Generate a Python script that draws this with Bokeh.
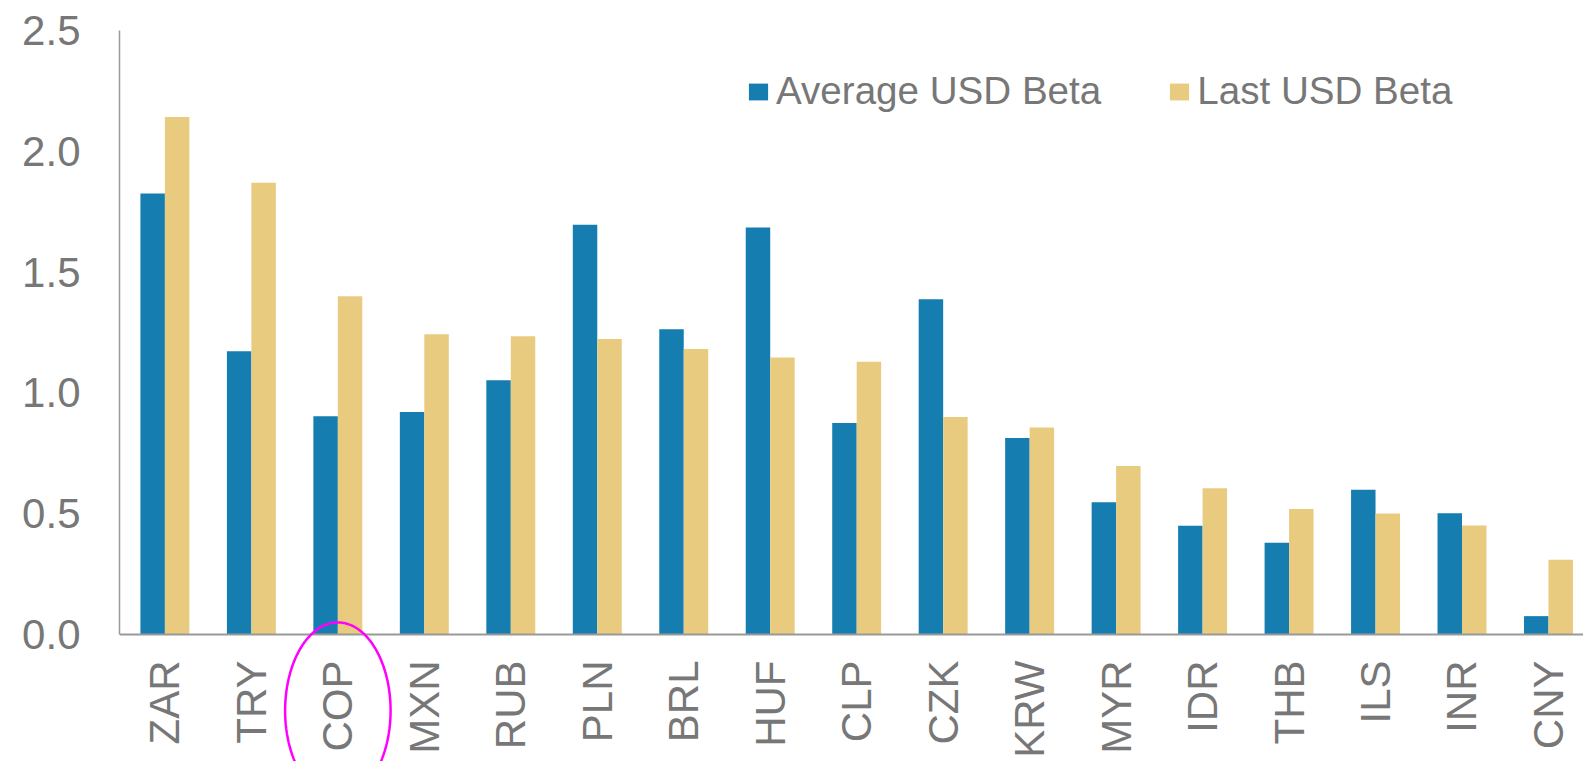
import math
from bokeh.plotting import figure
from bokeh.models import (Range1d, FixedTicker, Legend, LegendItem, ColumnDataSource,
                          PolyAnnotation)
from bokeh.embed import file_html
from bokeh.resources import INLINE

categories = ["ZAR", "TRY", "COP", "MXN", "RUB", "PLN", "BRL", "HUF", "CLP",
              "CZK", "KRW", "MYR", "IDR", "THB", "ILS", "INR", "CNY"]
average_usd_beta = [1.825, 1.172, 0.903, 0.921, 1.052, 1.696, 1.263, 1.685, 0.875,
                    1.388, 0.813, 0.547, 0.450, 0.380, 0.599, 0.502, 0.076]
last_usd_beta = [2.142, 1.870, 1.400, 1.243, 1.234, 1.223, 1.182, 1.146, 1.129,
                 0.900, 0.857, 0.697, 0.605, 0.519, 0.501, 0.451, 0.309]
y_ticks = [0.0, 0.5, 1.0, 1.5, 2.0, 2.5]
highlight = "COP"

BLUE = "#167db1"
GOLD = "#e9cb7f"
TEXT = "#777777"
AXIS = "#999999"
FONT = "Liberation Sans"

bar_w = 0.283
centers = [i + 0.5 for i in range(len(categories))]
src = ColumnDataSource(dict(
    cat=categories,
    xa=[c - bar_w / 2 for c in centers],
    xl=[c + bar_w / 2 for c in centers],
    avg=average_usd_beta,
    last=last_usd_beta,
))

p = figure(width=1583, height=761, output_backend="svg", toolbar_location=None,
           x_range=Range1d(-0.025, 16.905), y_range=Range1d(-0.5257, 2.5),
           min_border_left=119, min_border_right=0, min_border_top=30,
           min_border_bottom=0)
p.outline_line_color = None
p.xgrid.grid_line_color = None
p.ygrid.grid_line_color = None

r1 = p.vbar(x="xa", top="avg", width=bar_w, bottom=0, source=src,
            fill_color=BLUE, line_color=None)
r2 = p.vbar(x="xl", top="last", width=bar_w, bottom=0, source=src,
            fill_color=GOLD, line_color=None)

# x axis, pinned at y = 0
xa = p.xaxis[0]
xa.fixed_location = 0
xa.ticker = FixedTicker(ticks=centers)
xa.major_label_overrides = {c: cat for c, cat in zip(centers, categories)}
xa.major_label_orientation = math.pi / 2
xa.major_tick_out = 0
xa.major_tick_in = 0
xa.minor_tick_out = 0
xa.minor_tick_in = 0
xa.axis_line_color = AXIS
xa.axis_line_width = 2
xa.major_label_text_font = FONT
xa.major_label_text_font_size = "42px"
xa.major_label_text_color = TEXT
xa.major_label_standoff = 26

# y axis
ya = p.yaxis[0]
ya.bounds = (0, 2.5)
ya.ticker = FixedTicker(ticks=y_ticks)
ya.major_label_overrides = {t: f"{t:.1f}" for t in y_ticks}
ya.major_tick_out = 0
ya.major_tick_in = 0
ya.minor_tick_out = 0
ya.minor_tick_in = 0
ya.axis_line_color = AXIS
ya.axis_line_width = 1.5
ya.major_label_text_font = FONT
ya.major_label_text_font_size = "42px"
ya.major_label_text_color = TEXT
ya.major_label_standoff = 39

# highlight ellipse around the highlighted category label
hx = categories.index(highlight) + 0.5
rx, ry, cy = 0.61, 0.365, -0.315
angles = [2 * math.pi * k / 120 for k in range(121)]
ring = PolyAnnotation(xs=[hx + rx * math.cos(a) for a in angles],
                      ys=[cy + ry * math.sin(a) for a in angles],
                      fill_alpha=0, line_color="#ff00ff", line_alpha=1.0,
                      line_width=2.5)
p.add_layout(ring)

legend = Legend(items=[LegendItem(label="Average USD Beta", renderers=[r1]),
                       LegendItem(label="Last USD Beta", renderers=[r2])],
                orientation="horizontal", location=(627, 648),
                padding=0, margin=0, spacing=66,
                glyph_width=24, glyph_height=21, label_standoff=6,
                label_text_font=FONT, label_text_font_size="38.6px",
                label_text_color=TEXT,
                border_line_color=None, background_fill_alpha=0)
p.add_layout(legend, "center")

open("out.html", "w").write(file_html(p, INLINE))
